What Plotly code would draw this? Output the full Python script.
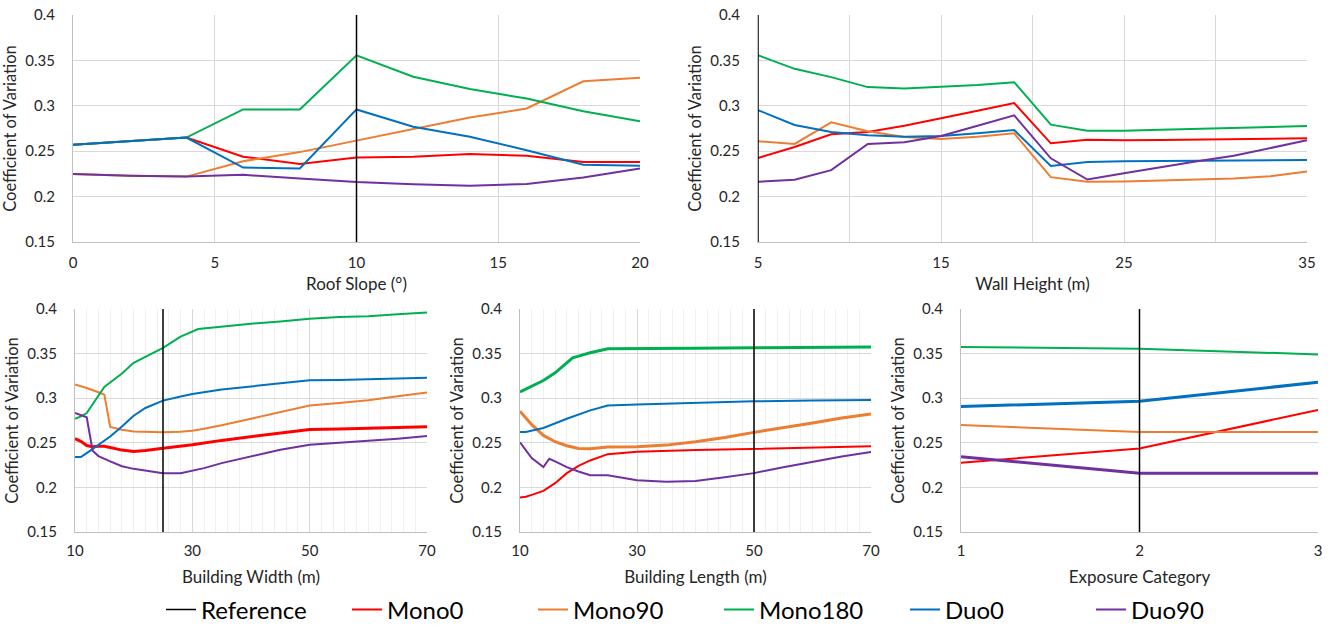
import plotly.graph_objects as go

# ---------------- data ----------------
series_names = ["Mono0", "Mono90", "Mono180", "Duo0", "Duo90"]
series_colors = ["#FF0000", "#ED7D31", "#00B050", "#0070C0", "#7030A0"]

# Panel 1: Roof slope
roof_x = [0, 2, 4, 6, 8, 10, 12, 14, 16, 18, 20]
roof_mono0 = [0.257, 0.261, 0.265, 0.244, 0.236, 0.243, 0.244, 0.247, 0.245, 0.238, 0.238]
roof_mono90 = [0.225, 0.223, 0.222, 0.239, 0.249, 0.2616, 0.274, 0.287, 0.297, 0.327, 0.331]
roof_mono180 = [0.257, 0.261, 0.265, 0.296, 0.296, 0.3556, 0.332, 0.3185, 0.308, 0.294, 0.283]
roof_duo0 = [0.257, 0.261, 0.265, 0.232, 0.231, 0.296, 0.277, 0.266, 0.251, 0.235, 0.234]
roof_duo90 = [0.225, 0.223, 0.222, 0.224, 0.220, 0.216, 0.2135, 0.212, 0.214, 0.221, 0.231]
roof_ref = 10

# Panel 2: Wall height
wall_x = [5, 7, 9, 11, 13, 15, 17, 19, 21, 23, 25, 27, 29, 31, 33, 35]
wall_mono0 = [0.2426, 0.2547, 0.2686, 0.2712, 0.278, 0.286, 0.2946, 0.303, 0.2587, 0.2627,
              0.262, 0.2622, 0.2625, 0.263, 0.2635, 0.2642]
wall_mono90 = [0.2609, 0.258, 0.2818, 0.2719, 0.2657, 0.2635, 0.266, 0.2697, 0.2214, 0.2163,
               0.2166, 0.2175, 0.2185, 0.2198, 0.2225, 0.2276]
wall_mono180 = [0.3557, 0.3407, 0.3316, 0.3206, 0.3191, 0.3206, 0.3228, 0.326, 0.2792, 0.2726,
                0.2726, 0.2735, 0.2745, 0.2752, 0.2765, 0.2778]
wall_duo0 = [0.2953, 0.2788, 0.2712, 0.2675, 0.266, 0.2667, 0.2697, 0.2733, 0.2338, 0.2382,
             0.239, 0.2392, 0.2395, 0.2397, 0.24, 0.2404]
wall_duo90 = [0.2163, 0.2185, 0.2291, 0.258, 0.2598, 0.2667, 0.278, 0.2895, 0.2422, 0.2188,
              0.2258, 0.2325, 0.239, 0.245, 0.2535, 0.262]
wall_ref = 5

# Panel 3: Building width
width_mono0_x = [10, 11, 12, 13, 14, 15, 16, 18, 20, 22, 25, 28, 30, 35, 40, 45, 50, 55, 60, 65, 70]
width_mono0 = [0.2546, 0.2516, 0.247, 0.2456, 0.246, 0.246, 0.2448, 0.2418, 0.2403, 0.2414, 0.244,
               0.246, 0.2478, 0.2527, 0.2568, 0.2613, 0.265, 0.2654, 0.2662, 0.267, 0.2681]
width_mono90_x = [10, 12, 14, 15, 16, 18, 20, 22, 25, 28, 30, 32, 35, 40, 45, 50, 55, 60, 65, 70]
width_mono90 = [0.3153, 0.3115, 0.3067, 0.304, 0.2677, 0.2647, 0.2628, 0.2625, 0.2617, 0.2625,
                0.2636, 0.2658, 0.2696, 0.277, 0.2845, 0.2917, 0.2947, 0.2977, 0.3022, 0.3063]
width_mono180_x = [10, 11, 12, 15, 18, 20, 25, 28, 31, 35, 40, 45, 50, 55, 60, 65, 70]
width_mono180 = [0.277, 0.2797, 0.2834, 0.3127, 0.3277, 0.3397, 0.3565, 0.369, 0.3775, 0.3805,
                 0.3835, 0.386, 0.389, 0.391, 0.392, 0.394, 0.396]
width_duo0_x = [10, 11, 12, 14, 16, 18, 20, 22, 25, 28, 30, 35, 40, 45, 50, 55, 60, 65, 70]
width_duo0 = [0.234, 0.234, 0.2385, 0.2478, 0.257, 0.2684, 0.2804, 0.289, 0.2973, 0.302, 0.3048,
              0.3097, 0.313, 0.3168, 0.3202, 0.3205, 0.3216, 0.3222, 0.3228]
width_duo90_x = [10, 12, 13, 14, 16, 18, 20, 22, 24, 25, 28, 30, 32, 35, 40, 45, 50, 55, 60, 65, 70]
width_duo90 = [0.2834, 0.2786, 0.2411, 0.2351, 0.2291, 0.2238, 0.2208, 0.2186, 0.2167, 0.216, 0.216,
               0.219, 0.2216, 0.2272, 0.2347, 0.2422, 0.2478, 0.2497, 0.2523, 0.2546, 0.2576]
width_ref = 25

# Panel 4: Building length
length_mono0_x = [10, 11, 12, 14, 16, 18, 20, 22, 25, 30, 40, 50, 60, 70]
length_mono0 = [0.1886, 0.1895, 0.1916, 0.1961, 0.2047, 0.216, 0.2242, 0.2302, 0.2373, 0.24,
                0.2418, 0.2433, 0.2452, 0.246]
length_mono90_x = [10, 12, 14, 16, 18, 20, 22, 25, 30, 35, 40, 45, 50, 55, 60, 65, 70]
length_mono90 = [0.2853, 0.2703, 0.2583, 0.2512, 0.2467, 0.2437, 0.2433, 0.2452, 0.2456, 0.2474,
                 0.2512, 0.256, 0.2617, 0.2666, 0.2722, 0.2778, 0.2823]
length_mono180_x = [10, 12, 14, 16, 18, 19, 20, 22, 25, 30, 40, 50, 60, 70]
length_mono180 = [0.307, 0.3134, 0.3198, 0.3284, 0.3397, 0.3453, 0.3472, 0.351, 0.3554, 0.3554,
                  0.3561, 0.3565, 0.3573, 0.3573]
length_duo0_x = [10, 11, 14, 18, 22, 25, 30, 40, 50, 60, 70]
length_duo0 = [0.2621, 0.2621, 0.2666, 0.277, 0.2864, 0.2917, 0.2928, 0.295, 0.2965, 0.2973, 0.298]
length_duo90_x = [10, 12, 14, 15, 16, 18, 20, 22, 25, 30, 35, 40, 45, 50, 55, 60, 65, 70]
length_duo90 = [0.2504, 0.2328, 0.2227, 0.2321, 0.2291, 0.2227, 0.2178, 0.2137, 0.2137, 0.2081,
                0.2062, 0.2073, 0.2114, 0.216, 0.2227, 0.2291, 0.2347, 0.2396]
length_ref = 50

# Panel 5: Exposure category
exp_x = [1, 2, 3]
exp_mono0 = [0.2277, 0.2435, 0.2869]
exp_mono90 = [0.270, 0.262, 0.262]
exp_mono180 = [0.3574, 0.3555, 0.3491]
exp_duo0 = [0.2906, 0.2967, 0.3178]
exp_duo90 = [0.2345, 0.216, 0.216]
exp_ref = 2

y_range = [0.15, 0.4]

W, H = 1333, 635
panels = [
    dict(title="Roof Slope (°)", ref=roof_ref, xr=[0, 20],
         xs=[roof_x] * 5, ys=[roof_mono0, roof_mono90, roof_mono180, roof_duo0, roof_duo90],
         widths=[2, 2, 2, 2, 2], px=(73, 640), py=(15, 242)),
    dict(title="Wall Height (m)", ref=wall_ref, xr=[5, 35],
         xs=[wall_x] * 5, ys=[wall_mono0, wall_mono90, wall_mono180, wall_duo0, wall_duo90],
         widths=[2, 2, 2, 2, 2], px=(758, 1307), py=(15, 242)),
    dict(title="Building Width (m)", ref=width_ref, xr=[10, 70],
         xs=[width_mono0_x, width_mono90_x, width_mono180_x, width_duo0_x, width_duo90_x],
         ys=[width_mono0, width_mono90, width_mono180, width_duo0, width_duo90],
         widths=[3, 2, 2, 2, 2], px=(75, 427), py=(309, 532)),
    dict(title="Building Length (m)", ref=length_ref, xr=[10, 70],
         xs=[length_mono0_x, length_mono90_x, length_mono180_x, length_duo0_x, length_duo90_x],
         ys=[length_mono0, length_mono90, length_mono180, length_duo0, length_duo90],
         widths=[2, 3, 3, 2, 2], px=(520, 871), py=(309, 532)),
    dict(title="Exposure Category", ref=exp_ref, xr=[1, 3],
         xs=[exp_x] * 5, ys=[exp_mono0, exp_mono90, exp_mono180, exp_duo0, exp_duo90],
         widths=[2, 2, 2, 3, 3], px=(961, 1318), py=(309, 532)),
]

FONT = "Lato, 'Open Sans', sans-serif"
GRID = "#D9D9D9"
MINOR = "#F0F0F0"
TXT = "#262626"

fig = go.Figure()
layout = dict(
    width=W, height=H, paper_bgcolor="white", plot_bgcolor="white",
    margin=dict(l=0, r=0, t=0, b=0),
    font=dict(family=FONT, size=15, color=TXT),
    showlegend=True,
    # legend box kept fully inside the figure so it does not push the margins
    legend=dict(orientation="h", x=161 / W, xanchor="left", y=25 / H, yanchor="middle",
                font=dict(size=24, color="#000000"), itemwidth=30,
                entrywidth=141, entrywidthmode="pixels", traceorder="normal"),
)

for i, p in enumerate(panels):
    n = "" if i == 0 else str(i + 1)
    xa, ya = "x" + n, "y" + n
    for k in range(5):
        fig.add_trace(go.Scatter(x=p["xs"][k], y=p["ys"][k], mode="lines",
                                 line=dict(color=series_colors[k], width=p["widths"][k]),
                                 name=series_names[k], legendgroup=series_names[k],
                                 legendrank=k + 2,
                                 showlegend=(i == 0), xaxis=xa, yaxis=ya))
    # reference line
    fig.add_trace(go.Scatter(x=[p["ref"], p["ref"]], y=y_range, mode="lines",
                             line=dict(color="#000000", width=1.5), name="Reference",
                             legendgroup="Reference", legendrank=1, showlegend=(i == 0),
                             xaxis=xa, yaxis=ya, hoverinfo="skip"))

    xdom = [p["px"][0] / W, p["px"][1] / W]
    ydom = [1 - p["py"][1] / H, 1 - p["py"][0] / H]
    bottom = i >= 2
    xaxis = dict(domain=xdom, anchor=ya, range=p["xr"], showline=True, automargin=False,
                 linecolor="#BFBFBF", linewidth=1, ticks="", zeroline=False,
                 showgrid=True, gridcolor=GRID, gridwidth=1,
                 ticklabelstandoff=5 if bottom else 7,
                 title=dict(text=p["title"], standoff=13 if bottom else 8, font=dict(size=17)),
                 tickfont=dict(size=15))
    if i == 0:
        xaxis.update(dtick=5, tick0=0)
    elif i == 1:
        xaxis.update(dtick=10, tick0=5, minor=dict(dtick=5, tick0=5, showgrid=True,
                                                   gridcolor=GRID, ticks=""))
    elif i in (2, 3):
        xaxis.update(dtick=20, tick0=10, minor=dict(dtick=2, tick0=10, showgrid=True,
                                                    gridcolor=MINOR, ticks=""))
    else:
        xaxis.update(dtick=1, tick0=1, showgrid=False)
    yaxis = dict(domain=ydom, anchor=xa, range=y_range, dtick=0.05, tick0=0.15,
                 showline=True, linecolor="#BFBFBF", linewidth=1, ticks="", automargin=False,
                 zeroline=False, showgrid=True, gridcolor=GRID, ticklabelstandoff=14,
                 title=dict(text="Coefficient of Variation", standoff=4, font=dict(size=16.5)),
                 tickfont=dict(size=15))
    layout["xaxis" + n] = xaxis
    layout["yaxis" + n] = yaxis

fig.update_layout(**layout)
fig.write_html("out.html", config={"displayModeBar": False},
               post_script="document.body.style.margin='0';")
